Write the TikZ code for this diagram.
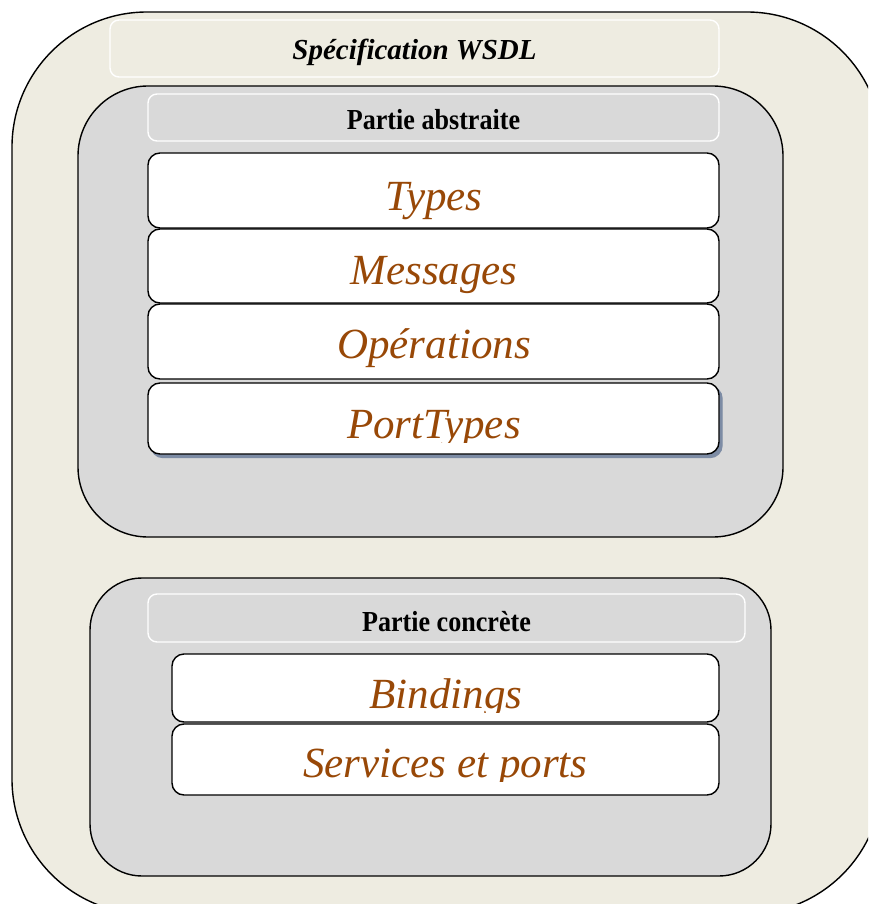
\documentclass[tikz,border=0pt]{standalone}
\usepackage{fontspec}
\setmainfont{Liberation Serif}
\definecolor{paper}{RGB}{238,236,225}
\definecolor{panel}{RGB}{217,217,217}
\definecolor{rust}{RGB}{152,72,7}
\definecolor{shade}{RGB}{125,140,165}
\begin{document}
\begin{tikzpicture}[x=1pt,y=-1pt,
  box/.style={shape=rectangle, inner sep=0pt, line width=1.4pt,
    minimum width=#1},
  outerframe/.style={box=870pt, draw=black, fill=paper, rounded corners=135pt},
  panelframe/.style={box=#1, draw=black, fill=panel, rounded corners=70pt},
  headerframe/.style={box=#1, draw=white, rounded corners=9pt},
  itemframe/.style={box=#1, draw=black, fill=white, rounded corners=12pt},
  itemtext/.style={anchor=base, inner sep=0pt, text=rust,
    font=\fontsize{43}{50}\selectfont\itshape},
  headtext/.style={anchor=base, inner sep=0pt,
    font=\fontsize{29}{34}\selectfont\bfseries},
]
\useasboundingbox (0,0) rectangle (868,904);
\clip (0,0) rectangle (868,904);

% outer WSDL frame, running past the right and bottom edges
\node[outerframe, minimum height=902pt] (wsdl) at (447,463) {};
\node[headerframe=609pt, minimum height=57pt] (wsdlhead) at (414.5,48.5) {};
\node[headtext, font=\fontsize{29}{34}\selectfont\bfseries\itshape] (wsdltitle)
  at (414.5,60) {Spécification WSDL};

% abstract part
\node[panelframe=705pt, minimum height=451pt] (abs) at (430.5,311.5) {};
\node[headerframe=571pt, minimum height=47pt] (abshead) at (433.5,117.5) {};
\node[headtext] (abstitle) at (433.5,130) {\scalebox{0.9}[1]{Partie abstraite}};

\node[itemframe=571pt, minimum height=75pt] (types) at (433.5,190.5) {};
\node[itemtext] (typestxt) at (434,210) {Types};
\node[itemframe=571pt, minimum height=74pt] (msgs) at (433.5,266) {};
\node[itemtext] (msgstxt) at (434,284) {Messages};
\node[itemframe=571pt, minimum height=75pt] (ops) at (433.5,341.5) {};
\node[itemtext] (opstxt) at (434,358) {Opérations};
\node[itemframe=571pt, minimum height=71pt, fill=shade, draw=shade]
  (portshadow) at (436.5,422) {};
\node[itemframe=571pt, minimum height=71pt] (ports) at (433.5,418.5) {};
\begin{scope}
  \clip (148,384) rectangle (719,442);
  \node[itemtext] (portstxt) at (434,438) {PortTypes};
\end{scope}

% concrete part
\node[panelframe=681pt, minimum height=298pt, rounded corners=52pt] (conc) at (430.5,727) {};
\node[headerframe=597pt, minimum height=48pt] (conchead) at (446.5,618) {};
\node[headtext] (conctitle) at (446.5,631) {\scalebox{0.9}[1]{Partie concrète}};

\node[itemframe=547pt, minimum height=68pt] (bind) at (445.5,688) {};
\begin{scope}
  \clip (172,655) rectangle (719,712);
  \node[itemtext] (bindtxt) at (446,708) {Bindings};
\end{scope}
\node[itemframe=547pt, minimum height=71pt] (serv) at (445.5,759.5) {};
\begin{scope}
  \clip (172,725) rectangle (719,781);
  \node[itemtext] (servtxt) at (445.5,777) {Services et ports};
\end{scope}
\end{tikzpicture}
\end{document}
